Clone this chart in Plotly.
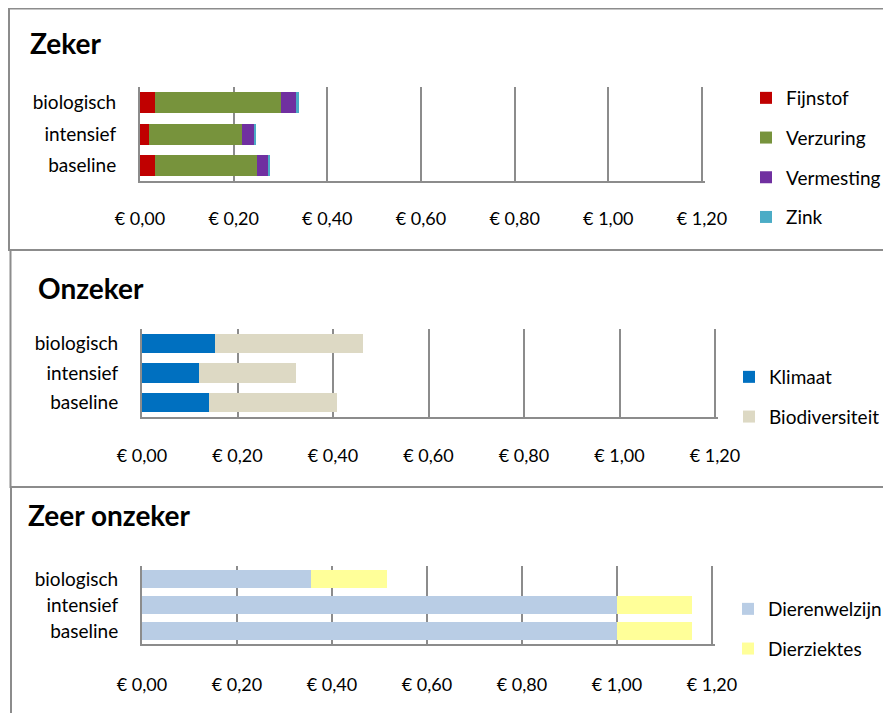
import plotly.graph_objects as go

# page has an 8px body margin: draw in a figure shifted by it
OFF = 8
W, H = 891 - OFF, 713 - OFF

# ---------------- data ----------------
categories = ["baseline", "intensief", "biologisch"]  # bottom -> top

fijnstof = [0.032, 0.0185, 0.032]
verzuring = [0.218, 0.199, 0.269]
vermesting = [0.023, 0.026, 0.034]
zink = [0.005, 0.004, 0.004]

klimaat = [0.140, 0.119, 0.153]
biodiversiteit = [0.268, 0.203, 0.309]

dierenwelzijn = [1.0, 1.0, 0.356]
dierziektes = [0.157, 0.157, 0.160]

tick_vals = [0, 0.2, 0.4, 0.6, 0.8, 1.0, 1.2]
tick_text = ["€ 0,00", "€ 0,20", "€ 0,40", "€ 0,60", "€ 0,80", "€ 1,00", "€ 1,20"]

panel_titles = ["Zeker", "Onzeker", "Zeer onzeker"]

# ---------------- styling ----------------
FONT = "Lato, 'Open Sans', sans-serif"
GRID = "#8c8c8c"
XMAX = 1.2


def px_x(p):
    return (p - OFF) / W


def px_y(p):
    return 1 - (p - OFF) / H


fig = go.Figure()

panels = [
    # (series, colors, names, x px (0 -> 1.2), y px (top,bottom), legend, standoff)
    ([fijnstof, verzuring, vermesting, zink],
     ["#C00000", "#77933C", "#7030A0", "#4BACC6"],
     ["Fijnstof", "Verzuring", "Vermesting", "Zink"],
     (140, 702), (87, 181), "legend", 20),
    ([klimaat, biodiversiteit],
     ["#0070C0", "#DDD9C4"],
     ["Klimaat", "Biodiversiteit"],
     (142, 715), (329, 417), "legend2", 21),
    ([dierenwelzijn, dierziektes],
     ["#B9CDE5", "#FFFF99"],
     ["Dierenwelzijn", "Dierziektes"],
     (142, 712), (566, 644), "legend3", 23),
]

for i, (series, colors, names, xd, yd, leg, so) in enumerate(panels):
    sfx = "" if i == 0 else str(i + 1)
    for vals, col, nm in zip(series, colors, names):
        fig.add_trace(go.Bar(
            y=categories, x=vals, orientation="h", name=nm,
            marker=dict(color=col, line=dict(width=0)),
            xaxis="x" + sfx, yaxis="y" + sfx, legend=leg,
            legendgroup=nm,
        ))
    extra = 2.5  # px beyond the last gridline so it is drawn
    rng_max = XMAX * (xd[1] + extra - xd[0]) / (xd[1] - xd[0])
    fig.layout["xaxis" + sfx] = dict(
        domain=[px_x(xd[0]), px_x(xd[1] + extra)], anchor="y" + sfx,
        range=[0, rng_max], tickvals=tick_vals, ticktext=tick_text,
        showgrid=True, gridcolor=GRID, gridwidth=1.5,
        showline=True, linecolor=GRID, linewidth=2, zeroline=False,
        ticks="", ticklabelstandoff=so, automargin=False,
        tickfont=dict(family=FONT, size=18, color="#000"),
        fixedrange=True,
    )
    fig.layout["yaxis" + sfx] = dict(
        domain=[px_y(yd[1]), px_y(yd[0])], anchor="x" + sfx,
        categoryorder="array", categoryarray=categories,
        showline=True, linecolor=GRID, linewidth=2, showgrid=False,
        ticks="", ticklabelstandoff=18, automargin=False,
        tickfont=dict(family=FONT, size=19, color="#000"),
        fixedrange=True,
    )

leg_font = dict(family=FONT, size=19, color="#000")
fig.update_layout(
    width=W, height=H,
    margin=dict(l=0, r=0, t=0, b=0, autoexpand=False),
    paper_bgcolor="white", plot_bgcolor="white",
    barmode="stack", bargap=0.33,
    showlegend=True,
    legend=dict(x=px_x(746), y=px_y(79), xanchor="left", yanchor="top",
                font=leg_font, tracegroupgap=12, bgcolor="rgba(0,0,0,0)"),
    legend2=dict(x=px_x(729), y=px_y(358), xanchor="left", yanchor="top",
                 font=leg_font, tracegroupgap=12, bgcolor="rgba(0,0,0,0)"),
    legend3=dict(x=px_x(728), y=px_y(590), xanchor="left", yanchor="top",
                 font=leg_font, tracegroupgap=12, bgcolor="rgba(0,0,0,0)"),
)

# panel titles
title_pos = [(28, 43), (36, 288), (26, 515)]
for t, (tx, ty) in zip(panel_titles, title_pos):
    fig.add_annotation(text="<b>%s</b>" % t, x=px_x(tx), y=px_y(ty),
                       xref="paper", yref="paper", xanchor="left", yanchor="middle",
                       showarrow=False,
                       font=dict(family=FONT, size=28, color="#000"))

# panel borders
borders = [(9, 8.5, 900, 250), (10.5, 250, 900, 487), (11, 487, 900, 730)]
for x0, y0, x1, y1 in borders:
    fig.add_shape(type="rect", xref="paper", yref="paper",
                  x0=px_x(x0), x1=px_x(x1), y0=px_y(y1), y1=px_y(y0),
                  line=dict(color=GRID, width=2), fillcolor="rgba(0,0,0,0)",
                  layer="below")

fig.write_html("out.html")
